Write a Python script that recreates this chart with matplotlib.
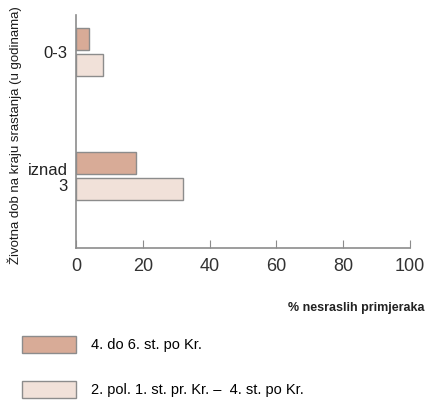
import matplotlib.pyplot as plt
import numpy as np
from matplotlib.patches import Patch

categories = ['0-3', 'iznad\n3']
late = [4, 18]      # 4. do 6. st. po Kr.
early = [8, 32]     # 2. pol. 1. st. pr. Kr. - 4. st. po Kr.
series_names = ['4. do 6. st. po Kr.', '2. pol. 1. st. pr. Kr. –  4. st. po Kr.']
xticks = [0, 20, 40, 60, 80, 100]

DARK = '#d8ab97'
LIGHT = '#f1e1d9'
EDGE = '#8c8c8c'

plt.rcParams['font.family'] = ['Liberation Sans', 'DejaVu Sans']

fig = plt.figure(figsize=(4.27, 4.01), dpi=100)
ax = fig.add_axes([0.178, 0.3815, 0.782, 0.581])

y = np.arange(len(categories))
h = 0.177
ax.barh(y - 0.105, late, height=h, color=DARK, edgecolor=EDGE, linewidth=1)
ax.barh(y + 0.105, early, height=h, color=LIGHT, edgecolor=EDGE, linewidth=1)

ax.set_xlim(0, 100)
ax.set_ylim(1.58, -0.30)
ax.set_xticks(xticks)
ax.set_xticklabels([str(t) for t in xticks], fontsize=13, color='#333333')
ax.set_yticks(y)
ax.set_yticklabels(categories, fontsize=12, color='#222222', linespacing=1.1)
ax.tick_params(axis='y', length=0, pad=6)
ax.tick_params(axis='x', direction='in', length=6, color=EDGE, pad=7)

for s in ['top', 'right']:
    ax.spines[s].set_visible(False)
for s in ['left', 'bottom']:
    ax.spines[s].set_color(EDGE)
    ax.spines[s].set_linewidth(1.2)

fig.text(0.035, 0.663, 'Životna dob na kraju srastanja (u godinama)', rotation=90,
         ha='center', va='center', fontsize=9.5, color='#1a1a1a')
fig.text(0.993, 0.232, '% nesraslih primjeraka', ha='right', va='center',
         fontsize=9, color='#222222', fontweight='bold')

handles = [Patch(facecolor=DARK, edgecolor=EDGE, linewidth=1),
           Patch(facecolor=LIGHT, edgecolor=EDGE, linewidth=1)]
fig.legend(handles, series_names, loc='upper left', bbox_to_anchor=(0.0515, 0.162),
           frameon=False, fontsize=10.5, handlelength=3.7, handleheight=1.37,
           labelspacing=1.95, handletextpad=1.05, borderaxespad=0, borderpad=0)

fig.savefig('out.png', dpi=100)
